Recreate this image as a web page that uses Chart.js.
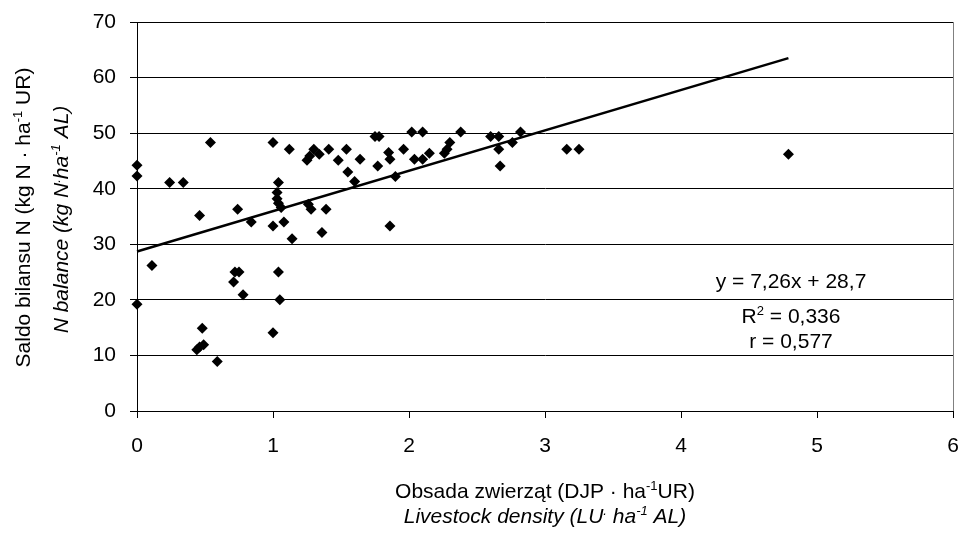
<!DOCTYPE html>
<html>
<head>
<meta charset="utf-8">
<script src="https://cdn.jsdelivr.net/npm/chart.js@4.4.1/dist/chart.umd.min.js"></script>
<style>
html, body { margin: 0; padding: 0; background: #fff; }
canvas { display: block; }
</style>
</head>
<body>
<canvas id="wykres" width="962" height="538"></canvas>
<script>
// Obsada zwierząt (DJP/ha UR) - oś X
let obsada = [0, 0, 0, 0.11, 0.24, 0.34, 0.44, 0.46, 0.46, 0.48, 0.49, 0.54, 0.59, 0.71, 0.72, 0.74, 0.75, 0.78, 0.84,
    1.00, 1.00, 1.00, 1.03, 1.03, 1.04, 1.06, 1.04, 1.04, 1.05, 1.08, 1.12, 1.14, 1.25, 1.26, 1.27, 1.28, 1.30, 1.34,
    1.36, 1.39, 1.41, 1.48, 1.54, 1.55, 1.60, 1.64, 1.75, 1.78, 1.77, 1.85, 1.86, 1.86, 1.90, 1.96, 2.02, 2.04, 2.10,
    2.10, 2.15, 2.26, 2.28, 2.30, 2.38, 2.60, 2.66, 2.66, 2.67, 2.76, 2.82, 3.16, 3.25, 4.79];
// Saldo bilansu N (kg N/ha UR) - oś Y
let saldo = [44.2, 42.3, 19.2, 26.2, 41.1, 41.1, 11.0, 11.5, 35.2, 14.9, 11.9, 48.3, 8.9, 23.2, 25.0, 36.3, 25.0, 20.9, 34.0,
    48.3, 33.3, 14.1, 39.3, 38.2, 37.4, 36.6, 41.1, 25.0, 20.0, 34.0, 47.1, 31.0, 45.1, 37.2, 45.9, 36.3, 47.1, 46.2,
    32.1, 36.3, 47.1, 45.1, 47.1, 43.0, 41.3, 45.3, 49.4, 49.4, 44.1, 46.5, 45.3, 33.3, 42.2, 47.1, 50.2, 45.3, 50.2,
    45.3, 46.4, 46.4, 47.1, 48.3, 50.2, 49.4, 49.4, 47.1, 44.1, 48.3, 50.2, 47.1, 47.1, 46.2];
// linia trendu y = 7,26x + 28,7 (od 0 do ostatniego punktu)
let trendX = [0, 4.79];
let trendY = [28.7, 63.5];
// etykiety osi
let xTicks = [0, 1, 2, 3, 4, 5, 6];
let yTicks = [0, 10, 20, 30, 40, 50, 60, 70];

const FONT = "'Liberation Sans', Arial, sans-serif";

// rysuje tekst z indeksami górnymi, wyśrodkowany w x
function rysujTekst(ctx, czesci, x, y, size, italic) {
    let styl = italic ? 'italic ' : '';
    let szer = 0;
    czesci.forEach(function(c) {
        ctx.font = styl + (c[1] ? size * 0.62 : size) + 'px ' + FONT;
        szer += ctx.measureText(c[0]).width;
    });
    let pos = x - szer / 2;
    czesci.forEach(function(c) {
        ctx.font = styl + (c[1] ? size * 0.62 : size) + 'px ' + FONT;
        ctx.fillText(c[0], pos, c[1] ? y - size * 0.4 : y);
        pos += ctx.measureText(c[0]).width;
    });
}

const opisy = {
    id: 'opisy',
    afterDraw(chart) {
        let ctx = chart.ctx;
        let area = chart.chartArea;
        ctx.save();
        // prawa ramka obszaru wykresu
        ctx.strokeStyle = '#808080';
        ctx.lineWidth = 1;
        ctx.beginPath();
        ctx.moveTo(Math.round(area.right) + 0.5, area.top);
        ctx.lineTo(Math.round(area.right) + 0.5, area.bottom);
        ctx.stroke();

        ctx.fillStyle = '#000';
        ctx.textAlign = 'left';
        ctx.textBaseline = 'alphabetic';
        let cx = (area.left + area.right) / 2;
        rysujTekst(ctx, [['Obsada zwierząt (DJP · ha'], ['-1', true], ['UR)']], cx, 498, 21, false);
        rysujTekst(ctx, [['Livestock density (LU'], ['.', true], [' ha'], ['-1', true], [' AL)']], cx, 523, 21, true);

        // tytuł osi Y
        let cy = (area.top + area.bottom) / 2;
        ctx.save();
        ctx.translate(30, cy + 1);
        ctx.rotate(-Math.PI / 2);
        rysujTekst(ctx, [['Saldo bilansu N (kg N · ha'], ['-1', true], [' UR)']], 0, 0, 21, false);
        ctx.restore();
        ctx.save();
        ctx.translate(68, cy + 3);
        ctx.rotate(-Math.PI / 2);
        rysujTekst(ctx, [['N balance (kg N'], ['.', true], ['ha'], ['-1', true], [' AL)']], 0, 0, 21, true);
        ctx.restore();

        // równanie regresji
        rysujTekst(ctx, [['y = 7,26x + 28,7']], 791, 288, 21, false);
        rysujTekst(ctx, [['R'], ['2', true], [' = 0,336']], 791, 323, 21, false);
        rysujTekst(ctx, [['r = 0,577']], 791, 348, 21, false);
        ctx.restore();
    }
};

let punkty = obsada.map(function(x, i) { return { x: x, y: saldo[i] }; });
let trend = trendX.map(function(x, i) { return { x: x, y: trendY[i] }; });

new Chart(document.getElementById('wykres').getContext('2d'), {
    type: 'scatter',
    data: {
        datasets: [{
            data: punkty,
            pointStyle: 'rectRot',
            pointRadius: 5.5,
            backgroundColor: '#000',
            borderColor: '#000',
            borderWidth: 0,
            clip: false
        }, {
            data: trend,
            showLine: true,
            pointRadius: 0,
            borderColor: '#000',
            borderWidth: 2.5,
            clip: false
        }]
    },
    options: {
        responsive: false,
        animation: false,
        layout: { padding: { top: 22, right: 9, left: 0, bottom: 0 } },
        plugins: { legend: { display: false }, tooltip: { enabled: false } },
        scales: {
            x: {
                type: 'linear',
                min: 0,
                max: 6,
                afterBuildTicks: function(scale) { scale.ticks = xTicks.map(function(v) { return { value: v }; }); },
                afterFit: function(scale) {
                    scale.height = 127;
                    scale.paddingLeft = 0;
                    scale.paddingRight = 0;
                },
                grid: { drawOnChartArea: false, drawTicks: true, tickLength: 7, color: '#000' },
                border: { display: true, color: '#000', width: 1 },
                ticks: { color: '#000', padding: 16, maxRotation: 0, font: { family: FONT, size: 21 } }
            },
            y: {
                min: 0,
                max: 70,
                afterBuildTicks: function(scale) { scale.ticks = yTicks.map(function(v) { return { value: v }; }); },
                afterFit: function(scale) {
                    scale.width = 137;
                    scale.paddingTop = 0;
                    scale.paddingBottom = 0;
                },
                grid: { drawOnChartArea: true, drawTicks: true, tickLength: 7, color: '#000' },
                border: { display: true, color: '#000', width: 1 },
                ticks: { color: '#000', padding: 14, font: { family: FONT, size: 21 } }
            }
        }
    },
    plugins: [opisy]
});
</script>
</body>
</html>
